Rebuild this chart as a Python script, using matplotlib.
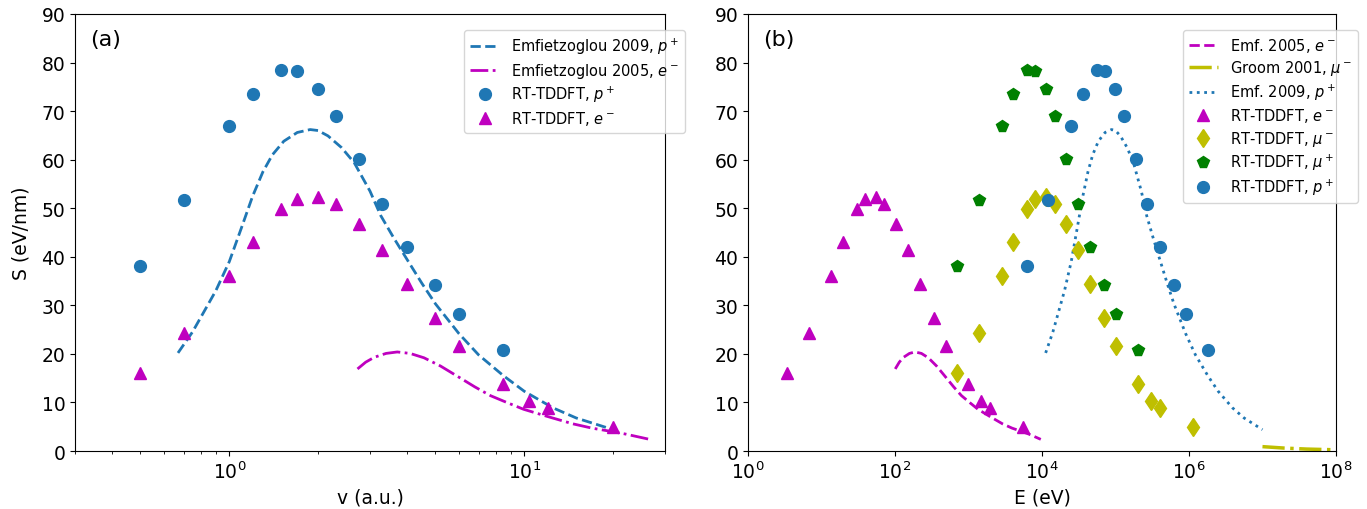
import matplotlib
matplotlib.use("Agg")
import matplotlib.pyplot as plt
from matplotlib.ticker import NullLocator

# RT-TDDFT stopping power vs projectile velocity (a.u.)
v_p = [0.5, 0.7, 1.0, 1.2, 1.5, 1.7, 2.0, 2.3, 2.75, 3.3, 4.0, 5.0, 6.0, 8.5]
S_p = [38.0, 51.6, 67.0, 73.5, 78.4, 78.3, 74.6, 69.0, 60.1, 50.9, 42.0, 34.2, 28.2, 20.9]
v_e = [0.5, 0.7, 1.0, 1.2, 1.5, 1.7, 2.0, 2.3, 2.75, 3.3, 4.0, 5.0, 6.0, 8.5, 10.4, 12.0, 20.0]
S_e = [16.1, 24.3, 36.0, 43.0, 49.8, 52.0, 52.3, 50.8, 46.8, 41.3, 34.4, 27.3, 21.7, 13.8, 10.3, 8.8, 5.0]

# same points vs kinetic energy (eV)
E_p = [6.2e3, 1.22e4, 2.5e4, 3.6e4, 5.6e4, 7.2e4, 1.0e5, 1.32e5, 1.89e5, 2.72e5, 4.0e5, 6.2e5, 9.0e5, 1.8e6]
E_mup = [703, 1378, 2813, 4050, 6330, 8130, 11250, 14880, 21270, 30630, 45000, 70300, 101300, 203200]
E_e = [3.4, 6.67, 13.6, 19.6, 30.6, 39.3, 54.4, 71.9, 102.9, 148, 218, 340, 490, 983, 1470, 1960, 5440]
E_mum = [703, 1378, 2813, 4050, 6330, 8130, 11250, 14880, 21270, 30630, 45000, 70300, 101300, 203200, 304000, 405000, 1125000]

# Emfietzoglou 2009, p+
v_emf09 = [0.67, 0.75, 0.80, 0.90, 1.00, 1.10, 1.20, 1.30, 1.40, 1.53, 1.70, 1.88, 2.00, 2.16, 2.40,
           2.65, 3.00, 3.26, 3.60, 4.00, 4.50, 5.00, 6.00, 7.00, 8.50, 10.0, 12.5, 15.0, 20.0]
S_emf09 = [20.2, 24.5, 27.5, 33.0, 39.0, 46.0, 52.5, 57.5, 61.0, 63.8, 65.6, 66.2, 66.0, 64.9, 62.5,
           59.4, 53.5, 48.5, 44.0, 39.5, 34.5, 30.3, 24.2, 19.8, 15.5, 12.3, 8.9, 6.8, 4.4]
E_emf09 = [11214, 14052, 15988, 20235, 24982, 30228, 35974, 42220, 48965, 58480, 72198, 88296, 99928,
           116556, 143896, 175436, 224838, 265499, 323767, 399712, 505886, 624550, 899352, 1224118,
           1804950, 2498200, 3903438, 5620950, 9992800]

# Emfietzoglou 2005, e-
v_emf05 = [2.72, 2.90, 3.10, 3.40, 3.71, 4.10, 4.57, 5.20, 5.93, 6.80, 7.68, 8.80, 9.94,
           12.0, 14.6, 17.0, 19.0, 22.0, 26.6]
S_emf05 = [16.9, 18.3, 19.3, 20.1, 20.4, 20.1, 19.2, 17.5, 15.4, 13.2, 11.4, 9.9, 8.6,
           7.1, 5.6, 4.7, 4.2, 3.5, 2.4]
E_emf05 = [100.7, 114.4, 130.7, 157.3, 187.3, 228.7, 284.2, 367.9, 478.4, 629.1, 802.5, 1053.6, 1344.3,
           1959.2, 2900.2, 3932.0, 4911.7, 6585.2, 9626.9]

# Groom 2001, mu-
E_groom = [1e7, 2e7, 4e7, 1e8]
S_groom = [0.9, 0.6, 0.4, 0.25]

blue = '#1f77b4'

fig = plt.figure(figsize=(13.67, 5.10), dpi=100)
ax1 = fig.add_axes([0.0549, 0.1137, 0.4316, 0.8569])
ax2 = fig.add_axes([0.5472, 0.1137, 0.4301, 0.8569])

ax1.plot(v_emf09, S_emf09, '--', color=blue, lw=2, label=r'Emfietzoglou 2009, $p^+$')
ax1.plot(v_emf05, S_emf05, '-.', color='m', lw=2, label=r'Emfietzoglou 2005, $e^-$')
ax1.plot(v_p, S_p, 'o', color=blue, ms=8.5, ls='none', label=r'RT-TDDFT, $p^+$')
ax1.plot(v_e, S_e, '^', color='m', ms=8.5, ls='none', label=r'RT-TDDFT, $e^-$')
ax1.set_xscale('log')
ax1.set_xlim(0.3, 30)
ax1.set_ylim(0, 90)
ax1.set_xlabel('v (a.u.)', fontsize=13.5)
ax1.set_ylabel('S (eV/nm)', fontsize=13.5, labelpad=8)
ax1.text(0.025, 0.93, '(a)', transform=ax1.transAxes, fontsize=16)
ax1.legend(loc='upper right', bbox_to_anchor=(1.034, 0.963), fontsize=10.5,
           labelspacing=0.3, borderaxespad=0)

ax2.plot(E_emf05, S_emf05, '--', color='m', lw=2, label=r'Emf. 2005, $e^-$')
ax2.plot(E_groom, S_groom, '-.', color='y', lw=2.5, label=r'Groom 2001, $\mu^-$')
ax2.plot(E_emf09, S_emf09, ':', color=blue, lw=2, label=r'Emf. 2009, $p^+$')
ax2.plot(E_e, S_e, '^', color='m', ms=8.5, ls='none', label=r'RT-TDDFT, $e^-$')
ax2.plot(E_mum, S_e, 'd', color='y', ms=9.5, ls='none', label=r'RT-TDDFT, $\mu^-$')
ax2.plot(E_mup, S_p, 'p', color='g', ms=8.5, ls='none', label=r'RT-TDDFT, $\mu^+$')
ax2.plot(E_p, S_p, 'o', color=blue, ms=8.5, ls='none', label=r'RT-TDDFT, $p^+$')
ax2.set_xscale('log')
ax2.set_xlim(1, 1e8)
ax2.set_ylim(0, 90)
ax2.set_xticks([1, 1e2, 1e4, 1e6, 1e8])
ax2.xaxis.set_minor_locator(NullLocator())
ax2.set_xlabel('E (eV)', fontsize=13.5)
ax2.text(0.025, 0.93, '(b)', transform=ax2.transAxes, fontsize=16)
ax2.legend(loc='upper right', bbox_to_anchor=(1.037, 0.963), fontsize=10.5,
           labelspacing=0.3, borderaxespad=0)

for ax in (ax1, ax2):
    ax.tick_params(labelsize=13.5)

fig.savefig('out.png', dpi=100)
